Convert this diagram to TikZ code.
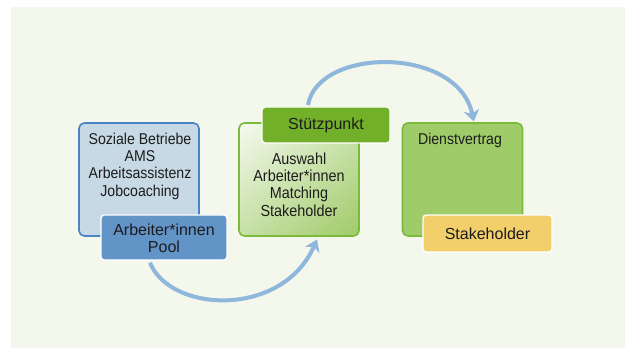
\documentclass[tikz,border=0pt]{standalone}
\usepackage{fontspec}
\setmainfont{Liberation Sans}[FakeStretch=0.9]
\newfontfamily\tagfont{Liberation Sans}
\usetikzlibrary{arrows.meta,shadings}
\definecolor{panel}{HTML}{F3F7EC}
\definecolor{greyblue}{HTML}{C7D9E4}
\definecolor{blueline}{HTML}{4A84C4}
\definecolor{poolblue}{HTML}{6394C8}
\definecolor{lightgreen}{HTML}{A0CB69}
\definecolor{greenline}{HTML}{7CBA3C}
\definecolor{darkgreen}{HTML}{72B02A}
\definecolor{yellowbox}{HTML}{F2CF6A}
\definecolor{arrowblue}{HTML}{8FB6DB}
\definecolor{ink}{HTML}{1C1C1C}
\tikzset{
  bigbox/.style={rounded corners=4pt, line width=1.2pt, minimum width=90pt, minimum height=84.75pt},
  tagbox/.style={rounded corners=2.5pt, draw=white, line width=1pt},
  txt/.style={font=\fontsize{11.75}{13}\selectfont, text=ink, align=center, inner sep=0pt},
  tagtxt/.style={font=\tagfont\fontsize{12}{12.5}\selectfont, text=ink, align=center, inner sep=0pt},
  flow/.style={arrowblue, line width=3pt, -{Stealth[width=11.5pt,length=8.5pt,inset=2.5pt]}}
}
\begin{document}
\begin{tikzpicture}[x=0.75pt, y=-0.75pt]
  \useasboundingbox (0,0) rectangle (625,348);
  \fill[panel] (11,7) rectangle (625,348);

  % left column: partners and the worker pool
  \node[bigbox, draw=blueline, fill=greyblue] (partners) at (139,179.5) {};
  \node[txt] (partnerstxt) at (140,166) {Soziale Betriebe\\AMS\\Arbeitsassistenz\\Jobcoaching};
  \node[tagbox, fill=poolblue, minimum width=94.5pt, minimum height=33.75pt] (pool) at (164,237.5) {};
  \node[tagtxt] (pooltxt) at (164,238.5) {Arbeiter*innen\\Pool};

  % middle column: base station
  \node[bigbox, draw=greenline, upper left=white!90!lightgreen, upper right=lightgreen!55!white,
        lower left=lightgreen!60!white, lower right=lightgreen] (base) at (299,179.5) {};
  \node[txt, font=\fontsize{12}{13}\selectfont] (basetxt) at (299,184.5) {Auswahl\\Arbeiter*innen\\Matching\\Stakeholder};
  \node[tagbox, fill=darkgreen, minimum width=96pt, minimum height=27pt] (stuetz) at (326,125) {};
  \node[tagtxt] (stuetztxt) at (326,125.5) {Stützpunkt};

  % right column: contract
  \node[bigbox, draw=greenline, fill=lightgreen] (contract) at (462.5,179.5) {};
  \node[txt] (contracttxt) at (460,140) {Dienstvertrag};
  \node[tagbox, fill=yellowbox, minimum width=96.75pt, minimum height=27.75pt] (stake) at (487.5,233.5) {};
  \node[tagtxt] (staketxt) at (487.5,234) {Stakeholder};

  % flow arrows
  \draw[flow] ([xshift=-10.5pt,yshift=-1.5pt]pool.south)
    .. controls +(20,50) and +(-35,79) .. ([xshift=13.5pt,yshift=-2pt]base.south);
  \draw[flow] ([xshift=-13.5pt,yshift=1pt]stuetz.north)
    .. controls +(10,-58) and +(-16,-76) .. ([xshift=8.5pt,yshift=0.5pt]contract.north);
\end{tikzpicture}
\end{document}
